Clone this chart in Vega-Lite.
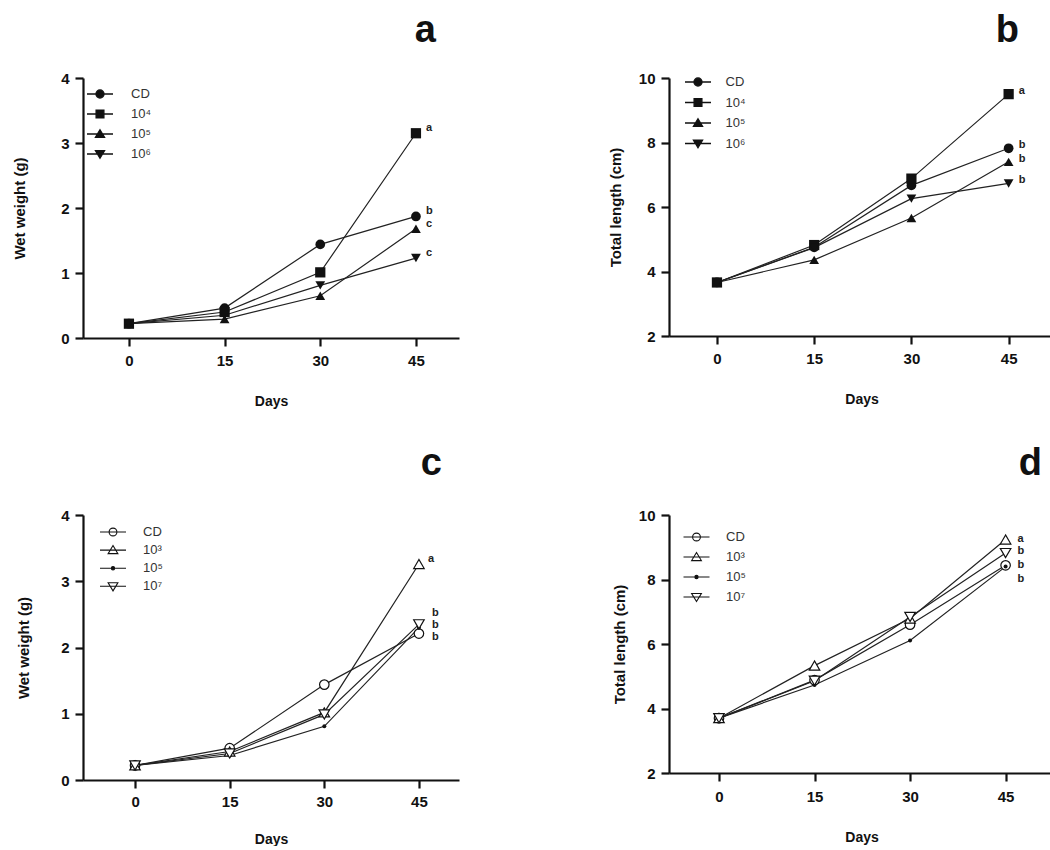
{
  "$schema": "https://vega.github.io/schema/vega-lite/v6.json",
  "background": "white",
  "padding": {"left": 12, "top": 12, "right": 0, "bottom": 0},
  "config": {
    "font": "Liberation Sans",
    "view": {"stroke": null},
    "axis": {
      "grid": false,
      "domainColor": "#111", "domainWidth": 2.2,
      "tickColor": "#111", "tickWidth": 2.2, "tickSize": 8,
      "labelFont": "Liberation Sans", "labelFontWeight": "bold", "labelFontSize": 15, "labelColor": "#111", "labelPadding": 6,
      "titleFont": "Liberation Sans", "titleFontWeight": "bold", "titleColor": "#111"
    },
    "axisX": {"titleFontSize": 14, "titlePadding": 26, "labelPadding": 7},
    "axisY": {"titleFontSize": 15},
    "legend": {
      "padding": 0, "titleFontSize": 0,
      "labelFont": "Liberation Sans", "labelFontSize": 13, "labelColor": "#333",
      "symbolSize": 169, "rowPadding": 1
    },
    "title": {"font": "Liberation Sans", "fontSize": 38, "fontWeight": "bold", "color": "#111", "anchor": "end", "baseline": "alphabetic", "frame": "group"}
  },
  "datasets": {
    "a": [
      {"day": 0, "group": "CD", "value": 0.22},
      {"day": 15, "group": "CD", "value": 0.46},
      {"day": 30, "group": "CD", "value": 1.44},
      {"day": 45, "group": "CD", "value": 1.87, "sig": "b"},
      {"day": 0, "group": "10⁴", "value": 0.22},
      {"day": 15, "group": "10⁴", "value": 0.4},
      {"day": 30, "group": "10⁴", "value": 1.01},
      {"day": 45, "group": "10⁴", "value": 3.15, "sig": "a"},
      {"day": 0, "group": "10⁵", "value": 0.22},
      {"day": 15, "group": "10⁵", "value": 0.29},
      {"day": 30, "group": "10⁵", "value": 0.65},
      {"day": 45, "group": "10⁵", "value": 1.68, "sig": "c"},
      {"day": 0, "group": "10⁶", "value": 0.22},
      {"day": 15, "group": "10⁶", "value": 0.35},
      {"day": 30, "group": "10⁶", "value": 0.81},
      {"day": 45, "group": "10⁶", "value": 1.23, "sig": "c"}
    ],
    "b": [
      {"day": 0, "group": "CD", "value": 3.66},
      {"day": 15, "group": "CD", "value": 4.75},
      {"day": 30, "group": "CD", "value": 6.67},
      {"day": 45, "group": "CD", "value": 7.82, "sig": "b"},
      {"day": 0, "group": "10⁴", "value": 3.66},
      {"day": 15, "group": "10⁴", "value": 4.82},
      {"day": 30, "group": "10⁴", "value": 6.88},
      {"day": 45, "group": "10⁴", "value": 9.5, "sig": "a"},
      {"day": 0, "group": "10⁵", "value": 3.66},
      {"day": 15, "group": "10⁵", "value": 4.36},
      {"day": 30, "group": "10⁵", "value": 5.66},
      {"day": 45, "group": "10⁵", "value": 7.4, "sig": "b"},
      {"day": 0, "group": "10⁶", "value": 3.66},
      {"day": 15, "group": "10⁶", "value": 4.74},
      {"day": 30, "group": "10⁶", "value": 6.26},
      {"day": 45, "group": "10⁶", "value": 6.73, "sig": "b"}
    ],
    "c": [
      {"day": 0, "group": "CD", "value": 0.22},
      {"day": 15, "group": "CD", "value": 0.48},
      {"day": 30, "group": "CD", "value": 1.44},
      {"day": 45, "group": "CD", "value": 2.21, "sig": "b"},
      {"day": 0, "group": "10³", "value": 0.22},
      {"day": 15, "group": "10³", "value": 0.43},
      {"day": 30, "group": "10³", "value": 1.02},
      {"day": 45, "group": "10³", "value": 3.26, "sig": "a"},
      {"day": 0, "group": "10⁵", "value": 0.22},
      {"day": 15, "group": "10⁵", "value": 0.37},
      {"day": 30, "group": "10⁵", "value": 0.81},
      {"day": 45, "group": "10⁵", "value": 2.3, "sig": "b"},
      {"day": 0, "group": "10⁷", "value": 0.22},
      {"day": 15, "group": "10⁷", "value": 0.4},
      {"day": 30, "group": "10⁷", "value": 0.99},
      {"day": 45, "group": "10⁷", "value": 2.35, "sig": "b"}
    ],
    "d": [
      {"day": 0, "group": "CD", "value": 3.7},
      {"day": 15, "group": "CD", "value": 4.88},
      {"day": 30, "group": "CD", "value": 6.6},
      {"day": 45, "group": "CD", "value": 8.44, "sig": "b"},
      {"day": 0, "group": "10³", "value": 3.7},
      {"day": 15, "group": "10³", "value": 5.33},
      {"day": 30, "group": "10³", "value": 6.79},
      {"day": 45, "group": "10³", "value": 9.24, "sig": "a"},
      {"day": 0, "group": "10⁵", "value": 3.7},
      {"day": 15, "group": "10⁵", "value": 4.73},
      {"day": 30, "group": "10⁵", "value": 6.11},
      {"day": 45, "group": "10⁵", "value": 8.4, "sig": "b"},
      {"day": 0, "group": "10⁷", "value": 3.7},
      {"day": 15, "group": "10⁷", "value": 4.86},
      {"day": 30, "group": "10⁷", "value": 6.84},
      {"day": 45, "group": "10⁷", "value": 8.82, "sig": "b"}
    ]
  },
  "resolve": {"scale": {"x": "independent", "y": "independent", "color": "independent", "shape": "independent"}, "legend": {"color": "independent", "shape": "independent"}},
  "spacing": 37,
  "vconcat": [
    {
      "spacing": 149,
      "resolve": {"scale": {"x": "independent", "y": "independent", "color": "independent", "shape": "independent"}, "legend": {"color": "independent", "shape": "independent"}},
      "hconcat": [
        {
          "width": 376, "height": 260,
          "title": {"text": "a", "offset": 21, "dx": -23},
          "data": {"name": "a"},
          "encoding": {
            "x": {"field": "day", "type": "quantitative", "scale": {"domain": [-7.2, 51.75], "nice": false, "zero": false}, "axis": {"values": [0, 15, 30, 45], "title": "Days"}},
            "y": {"field": "value", "type": "quantitative", "scale": {"domain": [0, 4], "nice": false}, "axis": {"values": [0, 1, 2, 3, 4], "title": "Wet weight (g)", "titlePadding": 33}}
          },
          "layer": [
            {"mark": {"type": "line", "color": "#222", "strokeWidth": 1.2}, "encoding": {"detail": {"field": "group"}}},
            {
              "transform": [{"filter": "datum.day < 0"}],
              "mark": {"type": "point", "filled": true, "stroke": "#111"},
              "encoding": {
                "shape": {"field": "group", "type": "nominal",
                  "scale": {"domain": ["CD", "10⁴", "10⁵", "10⁶"], "range": ["M-2,0H2M0.62,0A0.62,0.62 0 1,1 -0.62,0A0.62,0.62 0 1,1 0.62,0Z", "M-2,0H2M-0.6,-0.6H0.6V0.6H-0.6Z", "M-2,0H2M0,-0.65L0.7,0.5H-0.7Z", "M-2,0H2M0,0.65L0.7,-0.5H-0.7Z"]},
                  "legend": {"title": null, "orient": "none", "legendX": 9.5, "legendY": 8.5, "labelOffset": 23.5, "rowPadding": 5, "symbolStrokeWidth": 1.3, "symbolOpacity": 1}},
                "color": {"field": "group", "type": "nominal",
                  "scale": {"domain": ["CD", "10⁴", "10⁵", "10⁶"], "range": ["#111", "#111", "#111", "#111"]},
                  "legend": {"title": null, "orient": "none", "legendX": 9.5, "legendY": 8.5, "labelOffset": 23.5, "rowPadding": 5, "symbolStrokeWidth": 1.3, "symbolOpacity": 1}}
              }
            },
            {"transform": [{"filter": "datum.group === 'CD'"}], "mark": {"type": "point", "shape": "circle", "filled": true, "opacity": 1, "color": "#111", "size": 95}},
            {"transform": [{"filter": "datum.group === '10⁴'"}], "mark": {"type": "point", "shape": "square", "filled": true, "opacity": 1, "color": "#111", "size": 105}},
            {"transform": [{"filter": "datum.group === '10⁵'"}], "mark": {"type": "point", "shape": "triangle-up", "filled": true, "opacity": 1, "color": "#111", "size": 95}},
            {"transform": [{"filter": "datum.group === '10⁶'"}], "mark": {"type": "point", "shape": "triangle-down", "filled": true, "opacity": 1, "color": "#111", "size": 95}},
            {"transform": [{"filter": "datum.sig"}], "mark": {"type": "text", "align": "left", "baseline": "middle", "dx": 10, "dy": -5, "fontSize": 11, "fontWeight": "bold", "color": "#222"}, "encoding": {"text": {"field": "sig"}}}
          ]
        },
        {
          "width": 385, "height": 258,
          "title": {"text": "b", "offset": 21, "dx": -35},
          "data": {"name": "b"},
          "encoding": {
            "x": {"field": "day", "type": "quantitative", "scale": {"domain": [-7.4, 52], "nice": false, "zero": false}, "axis": {"values": [0, 15, 30, 45], "title": "Days"}},
            "y": {"field": "value", "type": "quantitative", "scale": {"domain": [2, 10], "nice": false, "zero": false}, "axis": {"values": [2, 4, 6, 8, 10], "title": "Total length (cm)", "titlePadding": 15}}
          },
          "layer": [
            {"mark": {"type": "line", "color": "#222", "strokeWidth": 1.2}, "encoding": {"detail": {"field": "group"}}},
            {
              "transform": [{"filter": "datum.day < 0"}],
              "mark": {"type": "point", "filled": true, "stroke": "#111"},
              "encoding": {
                "shape": {"field": "group", "type": "nominal",
                  "scale": {"domain": ["CD", "10⁴", "10⁵", "10⁶"], "range": ["M-2,0H2M0.62,0A0.62,0.62 0 1,1 -0.62,0A0.62,0.62 0 1,1 0.62,0Z", "M-2,0H2M-0.6,-0.6H0.6V0.6H-0.6Z", "M-2,0H2M0,-0.65L0.7,0.5H-0.7Z", "M-2,0H2M0,0.65L0.7,-0.5H-0.7Z"]},
                  "legend": {"title": null, "orient": "none", "legendX": 21.5, "legendY": -3.5, "labelOffset": 20, "rowPadding": 5.5, "symbolStrokeWidth": 1.3, "symbolOpacity": 1}},
                "color": {"field": "group", "type": "nominal",
                  "scale": {"domain": ["CD", "10⁴", "10⁵", "10⁶"], "range": ["#111", "#111", "#111", "#111"]},
                  "legend": {"title": null, "orient": "none", "legendX": 21.5, "legendY": -3.5, "labelOffset": 20, "rowPadding": 5.5, "symbolStrokeWidth": 1.3, "symbolOpacity": 1}}
              }
            },
            {"transform": [{"filter": "datum.group === 'CD'"}], "mark": {"type": "point", "shape": "circle", "filled": true, "opacity": 1, "color": "#111", "size": 95}},
            {"transform": [{"filter": "datum.group === '10⁴'"}], "mark": {"type": "point", "shape": "square", "filled": true, "opacity": 1, "color": "#111", "size": 105}},
            {"transform": [{"filter": "datum.group === '10⁵'"}], "mark": {"type": "point", "shape": "triangle-up", "filled": true, "opacity": 1, "color": "#111", "size": 95}},
            {"transform": [{"filter": "datum.group === '10⁶'"}], "mark": {"type": "point", "shape": "triangle-down", "filled": true, "opacity": 1, "color": "#111", "size": 95}},
            {"transform": [{"filter": "datum.sig"}], "mark": {"type": "text", "align": "left", "baseline": "middle", "dx": 10, "dy": -3, "fontSize": 11, "fontWeight": "bold", "color": "#222"}, "encoding": {"text": {"field": "sig"}}}
          ]
        }
      ]
    },
    {
      "spacing": 153,
      "resolve": {"scale": {"x": "independent", "y": "independent", "color": "independent", "shape": "independent"}, "legend": {"color": "independent", "shape": "independent"}},
      "hconcat": [
        {
          "width": 376, "height": 265,
          "title": {"text": "c", "offset": 25, "dx": -17},
          "data": {"name": "c"},
          "encoding": {
            "x": {"field": "day", "type": "quantitative", "scale": {"domain": [-8.25, 51.35], "nice": false, "zero": false}, "axis": {"values": [0, 15, 30, 45], "title": "Days", "labelPadding": 6, "titlePadding": 23}},
            "y": {"field": "value", "type": "quantitative", "scale": {"domain": [0, 4], "nice": false}, "axis": {"values": [0, 1, 2, 3, 4], "title": "Wet weight (g)", "titlePadding": 29}}
          },
          "layer": [
            {"mark": {"type": "line", "color": "#222", "strokeWidth": 1.2}, "encoding": {"detail": {"field": "group"}}},
            {
              "transform": [{"filter": "datum.day < 0"}],
              "mark": {"type": "point", "filled": true, "stroke": "#111"},
              "encoding": {
                "shape": {"field": "group", "type": "nominal",
                  "scale": {"domain": ["CD", "10³", "10⁵", "10⁷"], "range": ["M-2,0H2M0.6,0A0.6,0.6 0 1,1 -0.6,0A0.6,0.6 0 1,1 0.6,0Z", "M-2,0H2M0,-0.7L0.75,0.55H-0.75Z", "M-2,0H2M0.25,0A0.25,0.25 0 1,1 -0.25,0A0.25,0.25 0 1,1 0.25,0Z", "M-2,0H2M0,0.7L0.75,-0.55H-0.75Z"]},
                  "legend": {"title": null, "orient": "none", "legendX": 22.5, "legendY": 9.5, "labelOffset": 22.5, "rowPadding": 3.1, "symbolStrokeWidth": 1.1, "symbolOpacity": 1}},
                "color": {"field": "group", "type": "nominal",
                  "scale": {"domain": ["CD", "10³", "10⁵", "10⁷"], "range": ["white", "white", "#111", "white"]},
                  "legend": {"title": null, "orient": "none", "legendX": 22.5, "legendY": 9.5, "labelOffset": 22.5, "rowPadding": 3.1, "symbolStrokeWidth": 1.1, "symbolOpacity": 1}}
              }
            },
            {"transform": [{"filter": "datum.group === 'CD'"}], "mark": {"type": "point", "shape": "circle", "filled": true, "opacity": 1, "color": "white", "stroke": "#111", "strokeWidth": 1.2, "size": 90}},
            {"transform": [{"filter": "datum.group === '10³'"}], "mark": {"type": "point", "shape": "triangle-up", "filled": true, "opacity": 1, "color": "white", "stroke": "#111", "strokeWidth": 1.2, "size": 110}},
            {"transform": [{"filter": "datum.group === '10⁵'"}], "mark": {"type": "point", "shape": "circle", "filled": true, "opacity": 1, "color": "#111", "size": 16}},
            {"transform": [{"filter": "datum.group === '10⁷'"}], "mark": {"type": "point", "shape": "triangle-down", "filled": true, "opacity": 1, "color": "white", "stroke": "#111", "strokeWidth": 1.2, "size": 110}},
            {"transform": [{"filter": "datum.sig && datum.group === '10³'"}], "mark": {"type": "text", "align": "left", "baseline": "middle", "dx": 9, "dy": -5, "fontSize": 11, "fontWeight": "bold", "color": "#222"}, "encoding": {"text": {"field": "sig"}}},
            {"transform": [{"filter": "datum.sig && datum.group === '10⁷'"}], "mark": {"type": "text", "align": "left", "baseline": "middle", "dx": 13, "dy": -11, "fontSize": 11, "fontWeight": "bold", "color": "#222"}, "encoding": {"text": {"field": "sig"}}},
            {"transform": [{"filter": "datum.sig && datum.group === '10⁵'"}], "mark": {"type": "text", "align": "left", "baseline": "middle", "dx": 13, "dy": -3, "fontSize": 11, "fontWeight": "bold", "color": "#222"}, "encoding": {"text": {"field": "sig"}}},
            {"transform": [{"filter": "datum.sig && datum.group === 'CD'"}], "mark": {"type": "text", "align": "left", "baseline": "middle", "dx": 13, "dy": 3, "fontSize": 11, "fontWeight": "bold", "color": "#222"}, "encoding": {"text": {"field": "sig"}}}
          ]
        },
        {
          "width": 385, "height": 258,
          "title": {"text": "d", "offset": 25, "dx": -12},
          "data": {"name": "d"},
          "encoding": {
            "x": {"field": "day", "type": "quantitative", "scale": {"domain": [-7.85, 52.6], "nice": false, "zero": false}, "axis": {"values": [0, 15, 30, 45], "title": "Days", "labelPadding": 8, "titlePadding": 26}},
            "y": {"field": "value", "type": "quantitative", "scale": {"domain": [2, 10], "nice": false, "zero": false}, "axis": {"values": [2, 4, 6, 8, 10], "title": "Total length (cm)", "titlePadding": 11}}
          },
          "layer": [
            {"mark": {"type": "line", "color": "#222", "strokeWidth": 1.2}, "encoding": {"detail": {"field": "group"}}},
            {
              "transform": [{"filter": "datum.day < 0"}],
              "mark": {"type": "point", "filled": true, "stroke": "#111"},
              "encoding": {
                "shape": {"field": "group", "type": "nominal",
                  "scale": {"domain": ["CD", "10³", "10⁵", "10⁷"], "range": ["M-2,0H2M0.6,0A0.6,0.6 0 1,1 -0.6,0A0.6,0.6 0 1,1 0.6,0Z", "M-2,0H2M0,-0.7L0.75,0.55H-0.75Z", "M-2,0H2M0.25,0A0.25,0.25 0 1,1 -0.25,0A0.25,0.25 0 1,1 0.25,0Z", "M-2,0H2M0,0.7L0.75,-0.55H-0.75Z"]},
                  "legend": {"title": null, "orient": "none", "legendX": 20, "legendY": 14.5, "labelOffset": 22, "rowPadding": 5, "symbolStrokeWidth": 1.1, "symbolOpacity": 1}},
                "color": {"field": "group", "type": "nominal",
                  "scale": {"domain": ["CD", "10³", "10⁵", "10⁷"], "range": ["white", "white", "#111", "white"]},
                  "legend": {"title": null, "orient": "none", "legendX": 20, "legendY": 14.5, "labelOffset": 22, "rowPadding": 5, "symbolStrokeWidth": 1.1, "symbolOpacity": 1}}
              }
            },
            {"transform": [{"filter": "datum.group === 'CD'"}], "mark": {"type": "point", "shape": "circle", "filled": true, "opacity": 1, "color": "white", "stroke": "#111", "strokeWidth": 1.2, "size": 90}},
            {"transform": [{"filter": "datum.group === '10³'"}], "mark": {"type": "point", "shape": "triangle-up", "filled": true, "opacity": 1, "color": "white", "stroke": "#111", "strokeWidth": 1.2, "size": 110}},
            {"transform": [{"filter": "datum.group === '10⁵'"}], "mark": {"type": "point", "shape": "circle", "filled": true, "opacity": 1, "color": "#111", "size": 16}},
            {"transform": [{"filter": "datum.group === '10⁷'"}], "mark": {"type": "point", "shape": "triangle-down", "filled": true, "opacity": 1, "color": "white", "stroke": "#111", "strokeWidth": 1.2, "size": 110}},
            {"transform": [{"filter": "datum.sig && datum.group === '10³'"}], "mark": {"type": "text", "align": "left", "baseline": "middle", "dx": 12, "dy": -1, "fontSize": 11, "fontWeight": "bold", "color": "#222"}, "encoding": {"text": {"field": "sig"}}},
            {"transform": [{"filter": "datum.sig && datum.group === '10⁷'"}], "mark": {"type": "text", "align": "left", "baseline": "middle", "dx": 12, "dy": -2, "fontSize": 11, "fontWeight": "bold", "color": "#222"}, "encoding": {"text": {"field": "sig"}}},
            {"transform": [{"filter": "datum.sig && datum.group === 'CD'"}], "mark": {"type": "text", "align": "left", "baseline": "middle", "dx": 12, "dy": 0, "fontSize": 11, "fontWeight": "bold", "color": "#222"}, "encoding": {"text": {"field": "sig"}}},
            {"transform": [{"filter": "datum.sig && datum.group === '10⁵'"}], "mark": {"type": "text", "align": "left", "baseline": "middle", "dx": 12, "dy": 12, "fontSize": 11, "fontWeight": "bold", "color": "#222"}, "encoding": {"text": {"field": "sig"}}}
          ]
        }
      ]
    }
  ]
}
